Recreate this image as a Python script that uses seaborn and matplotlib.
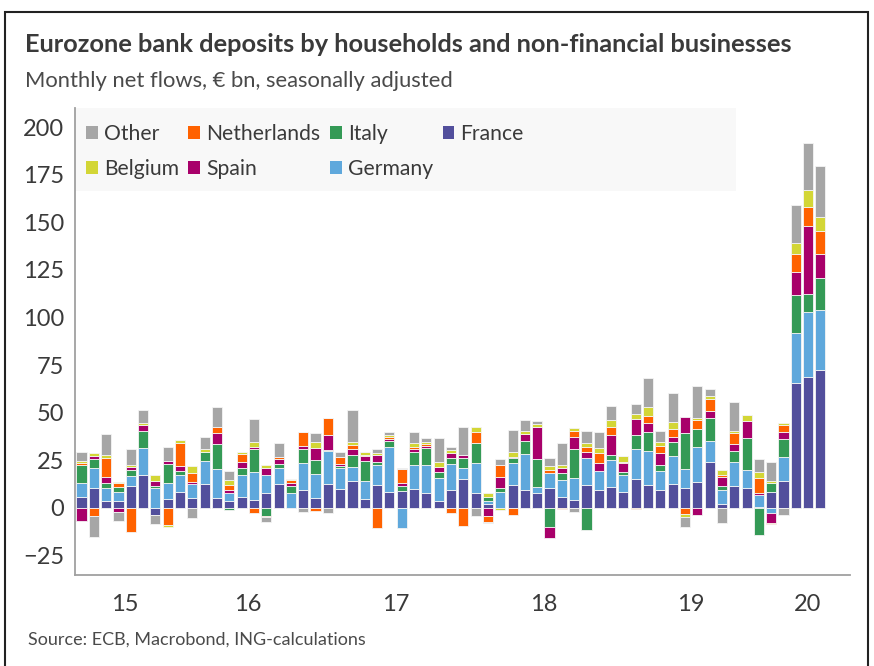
import numpy as np
import pandas as pd
import matplotlib
matplotlib.use("Agg")
import matplotlib.pyplot as plt
from matplotlib.patches import Patch, Rectangle
import seaborn as sns

# Monthly net flows, EUR bn (May 2015 - May 2020)
months = pd.period_range("2015-05", "2020-05", freq="M")

france = [6, 10.3, 3.7, 3.7, 11.7, 17.3, -3.7, 4.5,
          8.6, 5.1, 12.4, 5.1, 3.7, 6, 4.2, 7.7, 12.4, 0, 9.6, 5.2,
          12.4, 10.2, 14.2, 4.8, 12, 8.6, 9.1, 10, 7.7, 3.7, 9.4, 15.2,
          7.7, 2, 0, 12.1, 9.3, 7.7, 10.3, 5.9, 4.2, 12.1, 9.4, 10.8,
          8.6, 15, 12.1, 9.4, 12.6, 10.3, 13.8, 24.3, 2.1, 11.5, 10.3, 0.7,
          8.6, 14.3, 65.4, 68.6, 72.4]
germany = [7, 10.8, 7, 4.6, 5.2, 14.3, 10.3, 8.7,
           8.7, 7.3, 12.2, 15.2, 4, 11.4, 14.5, 9.6, 8.7, 7.7, 14, 12.8,
           17.5, 10.9, 7.2, 9.2, 10.5, 23.6, -10.3, 12.6, 14.9, 11.9, 13.5, 6,
           15.7, 1.5, 8.6, 11.7, 19.2, 3.1, 7.9, 8.7, 11.4, 14, 10.1, 14.3,
           8.7, 15.7, 18, 10.1, 14.7, 10, 18, 11, 7.3, 12.8, 9.6, 6.1,
           -2.6, 12.6, 26.3, 34.4, 31.5]
italy = [9.3, 4.4, 2.3, 2.6, 3, 8.7, 1.4, 10.1,
         2.1, 0, 4.9, 13.3, -1, 3.8, 12.2, -4.4, 1.9, 3.8, 7.5, 7.3,
         0.5, 0.8, 6.5, 10.5, 1.7, 3.1, 2.4, 6.6, 9.1, 3.5, 3.1, 4.9,
         10.8, 2, 1.7, 2.3, 6.5, 14.7, -9.8, 3.5, 15.2, -11.5, 0, 2.6,
         1.7, 7.5, 10, 3, 7.5, 19.2, 9.6, 11.7, 2.1, 5.8, 16.6, -14.2,
         4.7, 9.1, 20.1, 9.3, 16.7]
spain = [-7, 1.7, 3.1, -1.9, 1.7, 3.1, 2.4, 1.2,
         2.8, 1, 0, 5.6, 1.7, 2.8, 0.9, 3.5, 2.6, 1.4, 1.2, 6.1,
         8, 1.2, 3.2, 2.8, 3.5, 0.8, 1.7, 1.7, 1, 2.6, 2.6, 1.7,
         0, -4, 6.1, 0.5, 4, 16.8, -6.1, 3.1, 6.3, 3.5, 4.2, 10.5,
         4.7, 8.7, 4.4, 6.5, 2.6, 8.4, -3.7, 4, 4.5, 3.5, 9.3, 1.2,
         -5.2, 4, 12.2, 35.9, 12.7]
netherlands = [1.2, -4, 10, 2.1, -12.4, 0, 0, -9,
               11.7, 5.2, 0, 3.5, 2.6, 4.2, -2.8, -0.5, 1.2, 1.75, 7.5, -1.6,
               8.7, 3.7, 2.1, 0.4, -10.5, 1, 7, 0.9, 0.7, 0, -2.8, -9.3,
               5.8, -3.5, 6.1, -3.7, 0, 0, 1.7, -0.7, 3.5, 2.3, 4.9, 4.4,
               0.5, -0.5, 3.8, 3.5, 3.8, -3.2, 5, 6, 1.2, 6, 0, 7.5,
               -0.5, 3.5, 9.6, 10, 12.3]
belgium = [1.2, 1.4, 1.7, 0.5, 0.9, 1.4, 3.1, -1,
           1.7, 3.5, 1.7, 0, 2.6, 1, 2.6, 1.75, 0, 0.4, 0, 3,
           0, 0, 1.2, 1.6, 1, 1.2, 0, 2.1, 1, 2.6, 1.7, 0,
           2.6, 2.5, -1.2, 2.6, 1.5, 1.7, 2.1, 1.2, 1.6, 2.4, 3.1, 3.5,
           3.1, 2.6, 4.5, 2.3, 4, -1.4, 1, 1.7, 2.6, 0.8, 3, 3.5,
           1, 1.2, 5.6, 8.7, 7]
other = [4.9, -11.4, 10.8, -4.9, 8.4, 6.5, -4.9, 7.5,
         0, -5.4, 5.8, 10.1, 4.7, 0, 12.2, -2.6, 7.3, 0, -1.9, 5.2,
         -2.6, 2.8, 16.8, 0, 2.5, 1.8, 0.8, 6.1, 2.1, 12.2, 1.7, 14.9,
         -4, -0.5, 3, 11.7, 5.8, 1.6, 4, 11.7, -1.9, 6.1, 8.2, 7.5,
         0, 5.2, 15.2, 5.8, 15.2, -5.2, 16.6, 3.5, -7.7, 15, 0, 6.5,
         10, -3.7, 19.7, 24.9, 26.9]

series_names = ["France", "Germany", "Italy", "Spain", "Netherlands", "Belgium", "Other"]
series_values = [france, germany, italy, spain, netherlands, belgium, other]
colors = ["#524f9c", "#5fa8dc", "#349a56", "#a8006a", "#ff6200", "#d3d636", "#a6a6a6"]

year_labels = ["15", "16", "17", "18", "19", "20"]

df = pd.DataFrame(dict(zip(series_names, series_values)), index=months)

sns.set_theme(style="white")
plt.rcParams["font.family"] = ["Lato", "DejaVu Sans"]
text_col = "#3a3a3a"

fig = plt.figure(figsize=(8.74, 6.66), dpi=100)
W, H = 874, 666
ax = fig.add_axes([75 / W, 1 - 575 / H, (850 - 75) / W, (575 - 108) / H])
ax.set_facecolor("none")

x = np.arange(len(df))
pos_base = np.zeros(len(df))
neg_base = np.zeros(len(df))
for name, col in zip(series_names, colors):
    v = df[name].to_numpy(dtype=float)
    bottom = np.where(v >= 0, pos_base, neg_base)
    ax.bar(x, v, bottom=bottom, width=0.82, color=col,
           edgecolor="#f4f4f4", linewidth=0.6, zorder=2)
    pos_base += np.clip(v, 0, None)
    neg_base += np.clip(v, None, 0)

ax.set_xlim(-0.53, 62.4)
ax.set_ylim(-35.2, 210)
ax.set_yticks(np.arange(-25, 201, 25))
ax.tick_params(axis="y", length=0, pad=8, labelsize=17, labelcolor=text_col)

# year boundaries as ticks, year labels centred on visible part of each year
years = months.year
bounds = [i - 0.5 for i in range(1, len(months)) if years[i] != years[i - 1]]
ax.set_xticks(bounds)
ax.set_xticklabels([])
ax.tick_params(axis="x", which="major", length=6, width=1.2, color="#909090", direction="out")
edges = [ax.get_xlim()[0]] + bounds + [ax.get_xlim()[1]]
centres = [(a + b) / 2 for a, b in zip(edges[:-1], edges[1:])]
ax.set_xticks(centres, minor=True)
ax.set_xticklabels(year_labels, minor=True)
ax.tick_params(axis="x", which="minor", length=0, pad=14, labelsize=17, labelcolor=text_col)

sns.despine(ax=ax)
for s in ["left", "bottom"]:
    ax.spines[s].set_color("#a0a0a0")
    ax.spines[s].set_linewidth(1.3)

# legend background and legend
ax.add_patch(Rectangle((75 / W, 1 - 191 / H), (736 - 75) / W, 84 / H,
                       transform=fig.transFigure, facecolor="#f8f8f8",
                       edgecolor="none", zorder=0))
order = ["Other", "Belgium", "Netherlands", "Spain", "Italy", "Germany", "France"]
handles = [Patch(facecolor=colors[series_names.index(n)], edgecolor="none") for n in order]
leg = fig.legend(handles, order, ncol=4, loc="upper left",
                 bbox_to_anchor=(86 / W, 1 - 124 / H), frameon=False,
                 fontsize=15.2, handlelength=0.55, handleheight=0.55,
                 handletextpad=0.3, columnspacing=0.45, labelspacing=0.72,
                 borderpad=0, borderaxespad=0)
for t in leg.get_texts():
    t.set_color(text_col)

fig.text(25 / W, 1 - 44 / H, "Eurozone bank deposits by households and non-financial businesses",
         fontsize=18.3, fontweight="bold", color=text_col, va="center", ha="left")
fig.text(25 / W, 1 - 81 / H, "Monthly net flows, € bn, seasonally adjusted",
         fontsize=15.8, color="#4a4a4a", va="center", ha="left")
fig.text(28 / W, 1 - 640 / H, "Source: ECB, Macrobond, ING-calculations",
         fontsize=13, color="#4a4a4a", va="center", ha="left")

# outer frame
fig.add_artist(Rectangle((5 / W, -0.05), (868 - 5) / W, 1.05 - 12 / H + 0.0,
                         transform=fig.transFigure, fill=False,
                         edgecolor="#222222", linewidth=1.5))

fig.savefig("out.png", dpi=100)
